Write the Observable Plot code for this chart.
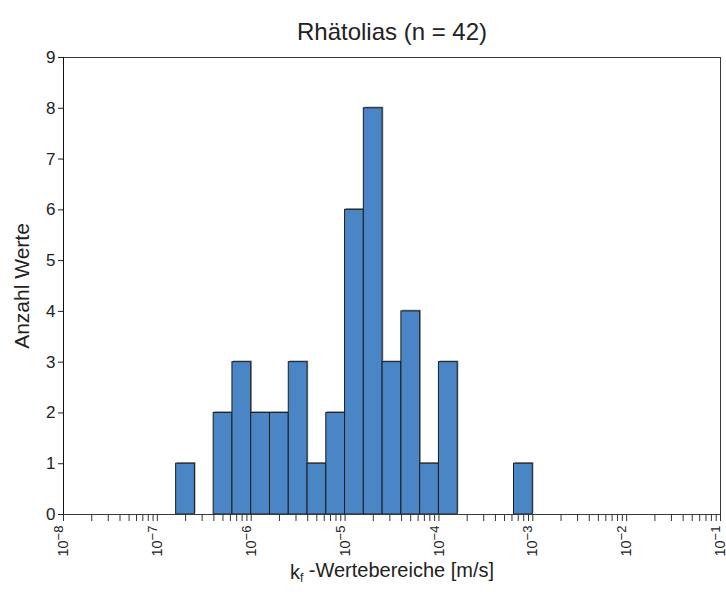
<!DOCTYPE html>
<html><head><meta charset="utf-8">
<script src="https://cdn.jsdelivr.net/npm/d3@7"></script>
<script src="https://cdn.jsdelivr.net/npm/@observablehq/plot@0.6"></script>
<style>body{margin:0;background:#fff} #chart svg{font-family:"Liberation Sans",Arial,sans-serif}</style>
</head><body><div id="chart"></div>
<script>
const title = "Rhätolias (n = 42)";
const yLabel = "Anzahl Werte";
const xLabelMain = "k";
const xLabelSub = "f";
const xLabelRest = " -Wertebereiche [m/s]";
// lower bin edges as log10 exponents, bin width 0.2 decades
const binLowExp = [-6.8, -6.4, -6.2, -6.0, -5.8, -5.6, -5.4, -5.2, -5.0, -4.8, -4.6, -4.4, -4.2, -4.0, -3.2];
const counts    = [1, 2, 3, 2, 2, 3, 1, 2, 6, 8, 3, 4, 1, 3, 1];
const binWidthExp = 0.2;
const decadeExps = [-8, -7, -6, -5, -4, -3, -2, -1];
const yTicks = [0, 1, 2, 3, 4, 5, 6, 7, 8, 9];

const bins = binLowExp.map((e, i) => ({x1: 10 ** e, x2: 10 ** (e + binWidthExp), y: counts[i]}));
const xTicks = [];
decadeExps.forEach((d, i) => {
  xTicks.push({v: 10 ** d, major: true, exp: d});
  if (i < decadeExps.length - 1) for (let m = 2; m <= 9; m++) xTicks.push({v: m * 10 ** d, major: false, exp: d});
});
const tickVals = xTicks.map(t => t.v);
const tickLabel = new Map(xTicks.map(t => [t.v, t.major ? "10^" + t.exp : ""]));

const chart = Plot.plot({
  width: 726, height: 592,
  marginLeft: 63, marginRight: 6, marginTop: 57, marginBottom: 78,
  style: {fontFamily: '"Liberation Sans", Arial, sans-serif', fontSize: "17px", color: "#222", background: "#fff"},
  x: {type: "log", domain: [1e-8, 1e-1]},
  y: {domain: [0, 9]},
  marks: [
    Plot.rectY(bins, {x1: "x1", x2: "x2", y: "y", fill: "#9a9a9a", dx: 1.2, dy: -1.2}),
    Plot.rectY(bins, {x1: "x1", x2: "x2", y: "y", fill: "#4a86c5", stroke: "#1c1c1c", strokeWidth: 1}),
    Plot.frame({stroke: "#3a3a3a"}),
    Plot.ruleX([1e-8], {stroke: "#111"}),
    Plot.axisX({ticks: tickVals, tickSize: 7, tickFormat: d => tickLabel.get(d) ?? "", tickRotate: -90, tickPadding: 4, label: null, fontSize: 14.5, stroke: "#333"}),
    Plot.axisY({ticks: yTicks, tickSize: 5, tickPadding: 3, label: null, fontSize: 17}),
    Plot.text([title], {frameAnchor: "top", dy: -35, fontSize: 24, fill: "#222"}),
    Plot.text([yLabel], {frameAnchor: "left", textAnchor: "middle", dx: -41, rotate: -90, fontSize: 21, fill: "#222"}),
    Plot.text([xLabelMain + xLabelSub + xLabelRest], {frameAnchor: "bottom", dy: 64, fontSize: 20, fill: "#222", className: "xlab"})
  ]
});
document.getElementById("chart").appendChild(chart);

const svg = d3.select(chart);
// superscripts for decade labels
svg.selectAll('g[aria-label="x-axis tick label"] text').each(function() {
  const t = this.textContent;
  if (!t.startsWith("10^")) return;
  const sel = d3.select(this);
  sel.text("10");
  sel.append("tspan").attr("dy", "-0.38em").attr("font-size", "0.9em").text(t.slice(3).replace("-", "\u2212"));
});
// subscript in x label
svg.selectAll("g.xlab text").each(function() {
  const sel = d3.select(this);
  sel.text(xLabelMain);
  sel.append("tspan").attr("dy", "0.25em").attr("font-size", "0.6em").text(xLabelSub);
  sel.append("tspan").attr("dy", "-0.25em").text(xLabelRest);
});
</script></body></html>
